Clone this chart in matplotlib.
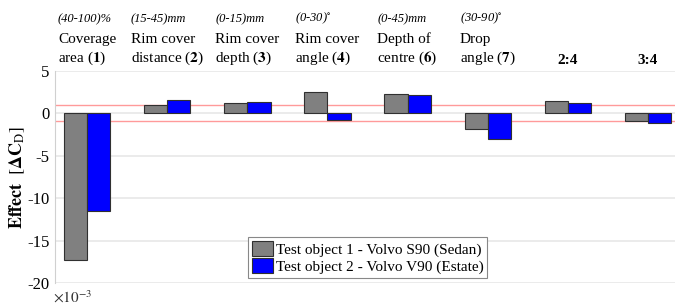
import numpy as np
import matplotlib
matplotlib.use("Agg")
import matplotlib.pyplot as plt
import matplotlib.transforms as mtransforms
from matplotlib.patches import Patch

plt.rcParams['font.family'] = ['Liberation Serif', 'DejaVu Serif']
plt.rcParams['mathtext.fontset'] = 'stix'
plt.rcParams['axes.unicode_minus'] = False

# Data (values are x 1e-3)
ranges = ['(40-100)%', '(15-45)mm', '(0-15)mm', '(0-30)$^{\\circ}$',
          '(0-45)mm', '(30-90)$^{\\circ}$', '', '']
names = ['Coverage\narea ($\\mathbf{1}$)', 'Rim cover\ndistance ($\\mathbf{2}$)',
         'Rim cover\ndepth ($\\mathbf{3}$)', 'Rim cover\nangle ($\\mathbf{4}$)',
         'Depth of\ncentre ($\\mathbf{6}$)', 'Drop\nangle ($\\mathbf{7}$)',
         '2:4', '3:4']
sedan = [-17.3, 1.04, 1.27, 2.5, 2.3, -1.9, 1.43, -0.93]
estate = [-11.5, 1.63, 1.3, -0.73, 2.2, -3.0, 1.23, -1.13]
threshold = 0.95
series_labels = ['Test object 1 - Volvo S90 (Sedan)',
                 'Test object 2 - Volvo V90 (Estate)']

fig = plt.figure(figsize=(6.75, 3.07), dpi=100)
ax = fig.add_axes([0.0815, 0.078, 0.926, 0.691])

x = np.arange(1, len(sedan) + 1)
w = 0.29
ax.bar(x - w / 2, sedan, w, color='#808080', edgecolor='#303030', linewidth=0.8, zorder=3)
ax.bar(x + w / 2, estate, w, color='#0000ff', edgecolor='#303030', linewidth=0.8, zorder=3)

# threshold lines
ax.axhline(threshold, color='#ff9a9a', lw=1.0, zorder=2)
ax.axhline(-threshold, color='#ff9a9a', lw=1.0, zorder=2)

ax.set_xlim(0.6, 8.4)
ax.set_ylim(-20, 5)
ax.set_yticks([5, 0, -5, -10, -15, -20])
ax.set_xticks([])
ax.tick_params(axis='y', length=0, pad=4, labelsize=12)
ax.yaxis.grid(True, color='#ebebeb', lw=1.4, zorder=0)
ax.set_axisbelow(True)
for s in ['top', 'right', 'bottom']:
    ax.spines[s].set_visible(False)
ax.spines['left'].set_color('#d0d0d0')
ax.spines['left'].set_linewidth(0.8)

ax.set_ylabel('$\\mathbf{Effect}\\ \\ [\\mathbf{\\Delta C}_\\mathrm{D}]$', fontsize=13)
ax.yaxis.set_label_coords(-0.045, 0.5)
ax.text(-0.004, -0.03, '$\\times10^{-3}$', transform=ax.transAxes, fontsize=11,
        ha='left', va='top', color='#333333')

# category labels above the axes
trans = mtransforms.blended_transform_factory(ax.transData, ax.transAxes)
name_texts = []
for xi, nm in zip(x, names):
    if ':' in nm:
        t = ax.text(xi, 1.02, nm, transform=trans, ha='center', va='bottom',
                    fontsize=11, fontweight='bold')
    else:
        t = ax.text(xi, 1.02, nm, transform=trans, ha='center', va='bottom',
                    multialignment='left', fontsize=11, linespacing=1.3)
    name_texts.append(t)

fig.canvas.draw()
renderer = fig.canvas.get_renderer()
for t, rg in zip(name_texts, ranges):
    if not rg:
        continue
    bb = t.get_window_extent(renderer)
    fig.text(bb.x0 / fig.bbox.width, (bb.y1 + 7) / fig.bbox.height, rg,
             ha='left', va='bottom', fontsize=9, style='italic')

handles = [Patch(facecolor='#808080', edgecolor='#303030', lw=0.8),
           Patch(facecolor='#0000ff', edgecolor='#303030', lw=0.8)]
leg = ax.legend(handles, series_labels, loc='lower center', bbox_to_anchor=(0.5, 0.025),
                fontsize=11, fancybox=False, framealpha=1, edgecolor='#888888',
                handlelength=1.4, handleheight=1.1, handletextpad=0.15,
                borderpad=0.25, labelspacing=0.1, borderaxespad=0)
leg.get_frame().set_linewidth(0.8)

fig.savefig('out.png', dpi=100)
